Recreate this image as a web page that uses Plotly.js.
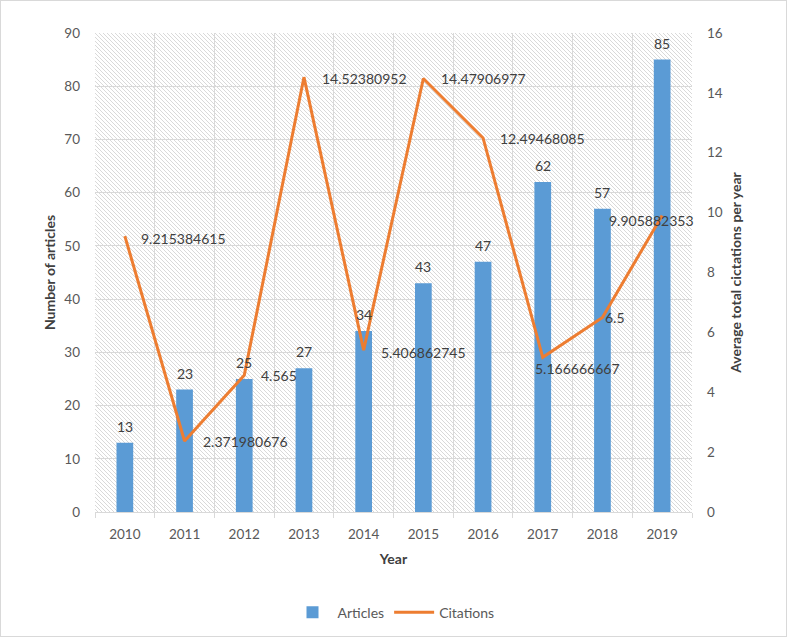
<!DOCTYPE html>
<html>
<head>
<meta charset="utf-8">
<script src="https://cdn.plot.ly/plotly-3.0.1.min.js"></script>
<style>
html,body{margin:0;padding:0;background:#fff;}
#chart{width:785px;height:635px;border:1px solid #d9d9d9;}
</style>
</head>
<body>
<div id="chart"></div>
<script>
const years = ["2010","2011","2012","2013","2014","2015","2016","2017","2018","2019"];
const articles = [13, 23, 25, 27, 34, 43, 47, 62, 57, 85];
const citations = [9.215384615, 2.371980676, 4.565, 14.52380952, 5.406862745, 14.47906977, 12.49468085, 5.166666667, 6.5, 9.905882353];
const citationLabels = ["9.215384615","2.371980676","4.565","14.52380952","5.406862745","14.47906977","12.49468085","5.166666667","6.5","9.905882353"];

// label placement (style only): horizontal anchor and pixel shifts for each citation label
const citAnchor = ["left","left","left","left","left","left","left","left","left","center"];
const citShiftX = [14, 16, 15, 16, 15, 16, 15, -10, 1, -11];
const citShiftY = [-2, -1, 0, -1, -2, 0, -1, -11, 0, -5];

const FONT = "Lato, 'Liberation Sans', sans-serif";

const hatchSvg = '<svg xmlns="http://www.w3.org/2000/svg" width="597" height="479">' +
  '<defs><pattern id="p" width="4" height="4" patternUnits="userSpaceOnUse">' +
  '<path d="M-1,-1 L5,5 M-1,3 L1,5 M3,-1 L5,1" stroke="#d9d9d9" stroke-width="1"/>' +
  '</pattern></defs><rect width="597" height="479" fill="url(#p)"/></svg>';
const hatchUri = 'data:image/svg+xml;charset=utf-8,' + encodeURIComponent(hatchSvg);

const traces = [
  {
    type: "bar",
    name: "Articles",
    x: years,
    y: articles,
    width: 0.28,
    marker: {color: "#5B9BD5"},
    hoverinfo: "x+y"
  },
  {
    type: "scatter",
    mode: "lines",
    name: "Citations",
    x: years,
    y: citations,
    yaxis: "y2",
    line: {color: "#ED7D31", width: 3}
  }
];

const labelFont = {family: FONT, size: 14, color: "#404040"};
const annotations = [];
years.forEach((yr, i) => {
  annotations.push({
    x: i, y: articles[i], xref: "x", yref: "y",
    text: String(articles[i]),
    showarrow: false, xanchor: "center", yanchor: "bottom",
    yshift: 6, font: labelFont
  });
});
years.forEach((yr, i) => {
  annotations.push({
    x: i, y: citations[i], xref: "x", yref: "y2",
    text: citationLabels[i],
    showarrow: false, xanchor: citAnchor[i], yanchor: "middle",
    xshift: citShiftX[i], yshift: citShiftY[i], font: labelFont
  });
});

const layout = {
  width: 785,
  height: 635,
  margin: {l: 94, r: 94, t: 32, b: 124, autoexpand: false},
  paper_bgcolor: "#ffffff",
  plot_bgcolor: "#ffffff",
  font: {family: FONT, size: 13.5, color: "#595959"},
  showlegend: true,
  legend: {
    orientation: "h",
    x: 0.5, xanchor: "center",
    y: -0.21, yanchor: "middle",
    font: {family: FONT, size: 14, color: "#595959"},
    traceorder: "normal",
    itemwidth: 40
  },
  annotations: annotations,
  xaxis: {
    type: "category",
    range: [-0.5, years.length - 0.5],
    tickson: "boundaries",
    showgrid: true,
    gridcolor: "#d9d9d9",
    gridwidth: 1,
    showline: true,
    linecolor: "#d9d9d9",
    ticks: "outside",
    ticklen: 5,
    tickcolor: "#d9d9d9",
    ticklabelstandoff: 10,
    tickfont: {family: FONT, size: 13.5, color: "#595959"},
    title: {text: "<b>Year</b>", font: {family: FONT, size: 14, color: "#404040"}, standoff: 12}
  },
  yaxis: {
    range: [0, 90],
    dtick: 10,
    showgrid: true,
    gridcolor: "#d9d9d9",
    zeroline: false,
    showline: false,
    ticks: "",
    tickfont: {family: FONT, size: 13.5, color: "#595959"},
    ticklabelstandoff: 14,
    title: {text: "<b>Number of articles</b>", font: {family: FONT, size: 14, color: "#404040"}, standoff: 5}
  },
  yaxis2: {
    overlaying: "y",
    side: "right",
    range: [0, 16],
    dtick: 2,
    showgrid: false,
    zeroline: false,
    showline: false,
    ticks: "",
    tickfont: {family: FONT, size: 13.5, color: "#595959"},
    ticklabelstandoff: 14,
    title: {text: "<b>Average total cictations per year</b>", font: {family: FONT, size: 14, color: "#404040"}, standoff: 9}
  },
  images: [{
    source: hatchUri,
    xref: "paper", yref: "paper",
    x: 0, y: 1, sizex: 1, sizey: 1,
    xanchor: "left", yanchor: "top",
    sizing: "stretch",
    layer: "below"
  }]
};

Plotly.newPlot("chart", traces, layout, {displayModeBar: false, staticPlot: true});
</script>
</body>
</html>
